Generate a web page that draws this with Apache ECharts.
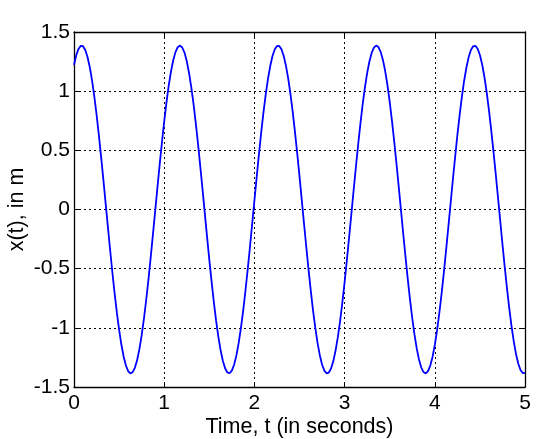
<!DOCTYPE html>
<html>
<head>
<meta charset="utf-8">
<script src="https://cdn.jsdelivr.net/npm/echarts@6/dist/echarts.min.js"></script>
<style>
html,body{margin:0;padding:0;background:#fff;}
#c{width:560px;height:439px;}
</style>
</head>
<body>
<div id="c"></div>
<script>
// Sample times (s)
const timeValues = [
0.000,0.025,0.050,0.075,0.100,0.125,0.150,0.175,0.200,0.225,0.250,0.275,0.300,0.325,0.350,0.375,0.400,0.425,0.450,0.475,
0.500,0.525,0.550,0.575,0.600,0.625,0.650,0.675,0.700,0.725,0.750,0.775,0.800,0.825,0.850,0.875,0.900,0.925,0.950,0.975,
1.000,1.025,1.050,1.075,1.100,1.125,1.150,1.175,1.200,1.225,1.250,1.275,1.300,1.325,1.350,1.375,1.400,1.425,1.450,1.475,
1.500,1.525,1.550,1.575,1.600,1.625,1.650,1.675,1.700,1.725,1.750,1.775,1.800,1.825,1.850,1.875,1.900,1.925,1.950,1.975,
2.000,2.025,2.050,2.075,2.100,2.125,2.150,2.175,2.200,2.225,2.250,2.275,2.300,2.325,2.350,2.375,2.400,2.425,2.450,2.475,
2.500,2.525,2.550,2.575,2.600,2.625,2.650,2.675,2.700,2.725,2.750,2.775,2.800,2.825,2.850,2.875,2.900,2.925,2.950,2.975,
3.000,3.025,3.050,3.075,3.100,3.125,3.150,3.175,3.200,3.225,3.250,3.275,3.300,3.325,3.350,3.375,3.400,3.425,3.450,3.475,
3.500,3.525,3.550,3.575,3.600,3.625,3.650,3.675,3.700,3.725,3.750,3.775,3.800,3.825,3.850,3.875,3.900,3.925,3.950,3.975,
4.000,4.025,4.050,4.075,4.100,4.125,4.150,4.175,4.200,4.225,4.250,4.275,4.300,4.325,4.350,4.375,4.400,4.425,4.450,4.475,
4.500,4.525,4.550,4.575,4.600,4.625,4.650,4.675,4.700,4.725,4.750,4.775,4.800,4.825,4.850,4.875,4.900,4.925,4.950,4.975,
5.000];
// Displacement x(t) in m
const displacement = [
1.222,1.303,1.357,1.383,1.380,1.348,1.289,1.202,1.091,0.957,0.803,0.633,0.449,0.256,0.058,-0.141,-0.338,-0.528,-0.706,-0.870,
-1.016,-1.141,-1.242,-1.317,-1.365,-1.385,-1.375,-1.338,-1.272,-1.180,-1.064,-0.925,-0.767,-0.594,-0.407,-0.213,-0.014,0.185,0.381,0.568,
0.744,0.904,1.046,1.165,1.261,1.330,1.372,1.385,1.369,1.326,1.254,1.156,1.035,0.892,0.730,0.554,0.365,0.170,-0.030,-0.229,
-0.423,-0.608,-0.780,-0.937,-1.074,-1.188,-1.278,-1.342,-1.377,-1.384,-1.362,-1.312,-1.235,-1.132,-1.005,-0.858,-0.693,-0.513,-0.323,-0.126,
0.074,0.272,0.464,0.647,0.816,0.968,1.101,1.210,1.295,1.352,1.381,1.382,1.354,1.297,1.214,1.106,0.974,0.823,0.654,0.472,
0.280,0.082,-0.118,-0.315,-0.506,-0.685,-0.852,-0.999,-1.127,-1.231,-1.310,-1.361,-1.384,-1.378,-1.344,-1.281,-1.192,-1.079,-0.943,-0.787,
-0.615,-0.430,-0.236,-0.038,0.162,0.357,0.546,0.723,0.886,1.030,1.152,1.251,1.323,1.368,1.385,1.373,1.332,1.264,1.169,1.051,
0.910,0.751,0.575,0.389,0.193,-0.006,-0.205,-0.399,-0.586,-0.760,-0.919,-1.058,-1.176,-1.269,-1.336,-1.374,-1.385,-1.366,-1.319,-1.246,
-1.145,-1.022,-0.876,-0.713,-0.535,-0.346,-0.149,0.050,0.249,0.441,0.626,0.796,0.951,1.086,1.198,1.286,1.347,1.379,1.383,1.359,
1.306,1.226,1.120,0.991,0.842,0.675,0.494,0.304,0.106,-0.093,-0.292,-0.483,-0.665,-0.832,-0.983,-1.113,-1.220,-1.301,-1.356,-1.382,
-1.380];
const xTicks = [0,1,2,3,4,5];
const yTicks = [-1.5,-1,-0.5,0,0.5,1,1.5];
const xTitle = 'Time, t (in seconds)';
const yTitle = 'x(t), in m';

const font = 'Liberation Sans, Arial, sans-serif';
const chart = echarts.init(document.getElementById('c'), null, {renderer:'canvas'});
const data = timeValues.map((t,i)=>[t, displacement[i]]);
const gridLine = {show:true, lineStyle:{color:'#000', width:1, type:[2,3]}};
const axLine = {show:true, onZero:false, lineStyle:{color:'#000', width:1.3}};
const tickIn = {show:true, inside:true, length:5, lineStyle:{color:'#000', width:1}};
chart.setOption({
  animation:false,
  backgroundColor:'#fff',
  grid:{left:74, right:35, top:32, bottom:52, containLabel:false, outerBoundsMode:'none'},
  xAxis:[{
    type:'value', min:xTicks[0], max:xTicks[xTicks.length-1], interval:1,
    position:'bottom',
    axisLine:axLine, axisTick:tickIn, splitLine:gridLine,
    axisLabel:{color:'#000', fontFamily:font, fontSize:21, margin:6},
    name:xTitle, nameLocation:'middle', nameGap:29, nameMoveOverlap:false,
    nameTextStyle:{color:'#000', fontFamily:font, fontSize:21.5}
  },{
    type:'value', min:xTicks[0], max:xTicks[xTicks.length-1], interval:1,
    position:'top',
    axisLine:axLine, axisTick:tickIn, splitLine:{show:false},
    axisLabel:{show:false}
  }],
  yAxis:[{
    type:'value', min:yTicks[0], max:yTicks[yTicks.length-1], interval:0.5,
    position:'left',
    axisLine:axLine, axisTick:tickIn, splitLine:gridLine,
    axisLabel:{color:'#000', fontFamily:font, fontSize:21, margin:4},
    name:yTitle, nameLocation:'middle', nameGap:46, nameMoveOverlap:false,
    nameTextStyle:{color:'#000', fontFamily:font, fontSize:21.5}
  },{
    type:'value', min:yTicks[0], max:yTicks[yTicks.length-1], interval:0.5,
    position:'right',
    axisLine:axLine, axisTick:tickIn, splitLine:{show:false},
    axisLabel:{show:false}
  }],
  series:[{
    type:'line', data:data, xAxisIndex:0, yAxisIndex:0,
    showSymbol:false, smooth:false,
    lineStyle:{color:'#0000ff', width:1.8}
  }]
});
</script>
</body>
</html>
